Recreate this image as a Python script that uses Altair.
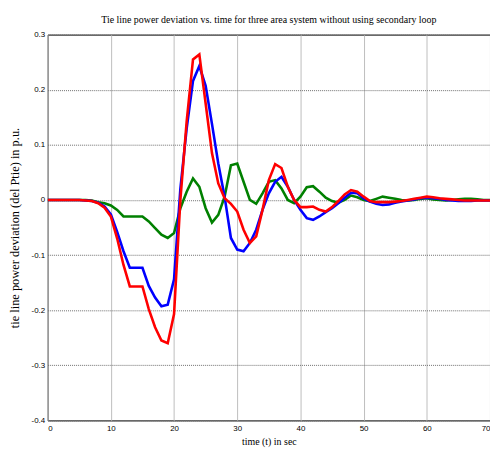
import altair as alt
import pandas as pd

t = list(range(0, 71))

red = [0, 0, 0, 0, 0, 0, -0.001, -0.002, -0.006, -0.014,
       -0.03, -0.07, -0.118, -0.157, -0.157, -0.157, -0.198, -0.231, -0.255, -0.26,
       -0.207, 0.0, 0.143, 0.255, 0.264, 0.175, 0.085, 0.03, 0.003, -0.007,
       -0.021, -0.054, -0.078, -0.066, -0.018, 0.036, 0.065, 0.058, 0.024, 0.0,
       -0.013, -0.013, -0.012, -0.018, -0.021, -0.013, -0.002, 0.01, 0.018, 0.015,
       0.006, -0.002, -0.004, -0.004, -0.004, -0.003, -0.002, 0.0, 0.002, 0.004,
       0.006, 0.005, 0.003, 0.002, 0.001, 0.0, -0.001, -0.001, -0.001, -0.001,
       -0.001]

blue = [0, 0, 0, 0, 0, 0, -0.001, -0.002, -0.005, -0.012,
        -0.026, -0.058, -0.093, -0.123, -0.123, -0.123, -0.156, -0.177, -0.193, -0.19,
        -0.144, 0.02, 0.13, 0.216, 0.243, 0.207, 0.138, 0.066, 0.006, -0.069,
        -0.09, -0.093, -0.078, -0.054, -0.018, 0.012, 0.033, 0.042, 0.024, 0.0,
        -0.018, -0.033, -0.036, -0.03, -0.022, -0.015, -0.006, 0.004, 0.013, 0.012,
        0.003, -0.003, -0.007, -0.009, -0.008, -0.005, -0.003, -0.001, 0.001, 0.003,
        0.004, 0.003, 0.002, 0.0, -0.001, -0.002, -0.002, -0.002, -0.001, -0.001,
        -0.001]

green = [0, 0, 0, 0, 0, 0, 0, -0.001, -0.004, -0.006,
         -0.01, -0.018, -0.03, -0.03, -0.03, -0.03, -0.039, -0.051, -0.063, -0.069,
         -0.06, -0.015, 0.015, 0.039, 0.024, -0.015, -0.041, -0.027, 0.006, 0.063,
         0.066, 0.033, 0.0, -0.007, 0.012, 0.033, 0.036, 0.021, 0.0, -0.006,
         0.006, 0.023, 0.025, 0.015, 0.004, -0.002, -0.005, 0.0, 0.008, 0.005,
         0.0, -0.002, 0.002, 0.006, 0.004, 0.002, 0.0, -0.001, 0.0, 0.002,
         0.003, 0.001, 0.0, -0.001, 0.0, 0.001, 0.002, 0.002, 0.001, 0.0,
         0.0]

series_names = ["green", "blue", "red"]
series_colors = ["#008000", "#0000ff", "#ff0000"]

df = pd.DataFrame({"t": t, "green": green, "blue": blue, "red": red})
long = df.melt(id_vars="t", var_name="series", value_name="v")

x = alt.X("t:Q", scale=alt.Scale(domain=[0, 70], nice=False),
          axis=alt.Axis(values=[0, 10, 20, 30, 40, 50, 60, 70], title="time (t) in sec",
                        grid=True, gridColor="#bdbdbd", gridWidth=1,
                        ticks=False, domain=False, labelPadding=4,
                        labelFont="Liberation Sans", labelFontSize=8, labelColor="#000",
                        titleFont="Liberation Serif", titleFontSize=10, titleFontWeight="normal",
                        titleColor="#000", titlePadding=4))
y = alt.Y("v:Q", scale=alt.Scale(domain=[-0.4, 0.3], nice=False, zero=False),
          axis=alt.Axis(values=[-0.4, -0.3, -0.2, -0.1, 0, 0.1, 0.2, 0.3],
                        labelExpr="toString(round(datum.value*10)/10)",
                        title="tie line power deviation (del Ptie) in p.u.",
                        grid=True, gridColor="#6e6e6e", gridWidth=1, gridDash=[1, 1],
                        ticks=False, domain=False, labelPadding=3,
                        labelFont="Liberation Sans", labelFontSize=8, labelColor="#000",
                        titleFont="Liberation Serif", titleFontSize=12.5, titleFontWeight="normal",
                        titleColor="#000", titlePadding=10))

layers = []
for name, col in zip(series_names, series_colors):
    layers.append(
        alt.Chart(long).transform_filter(alt.datum.series == name)
        .mark_line(color=col, strokeWidth=2.6, clip=True)
        .encode(x=x, y=y)
    )

chart = alt.layer(*layers).properties(
    width=446, height=389,
    title=alt.TitleParams("Tie line power deviation vs. time for three area system without using secondary loop",
                          font="Liberation Serif", fontSize=10, fontWeight="normal",
                          color="#000", anchor="middle", offset=6),
    autosize=alt.AutoSizeParams(type="none"),
    padding={"left": 40, "top": 25, "right": 0, "bottom": 27},
).configure_view(stroke="#000", strokeWidth=1)

chart.save("out.html", embed_options={"renderer": "svg", "actions": False})
